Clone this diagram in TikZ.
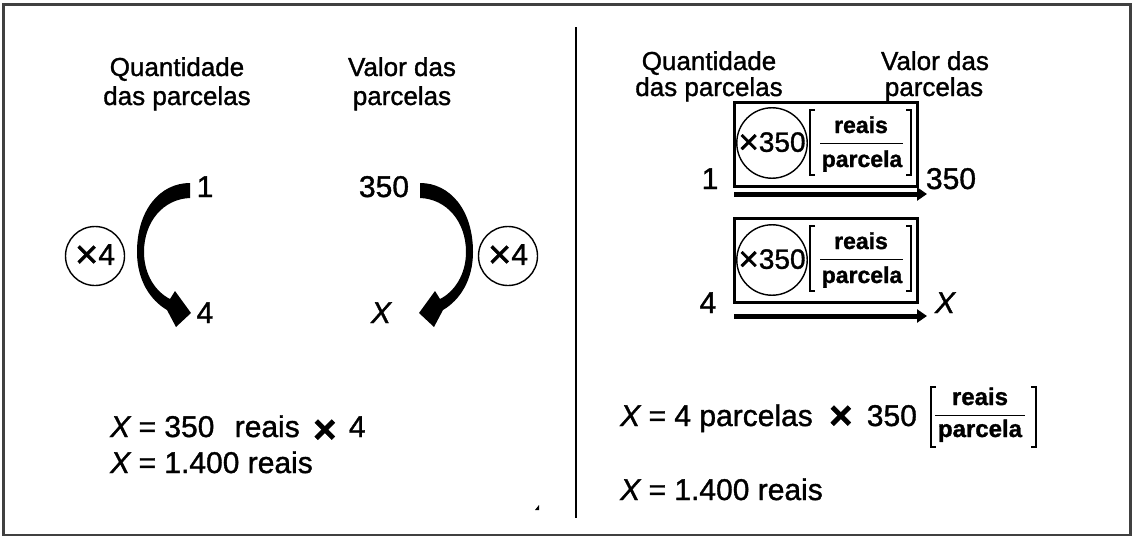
\documentclass[tikz,border=0pt]{standalone}
\usepackage{fontspec}
\setmainfont{Liberation Sans}[RawFeature={embolden=1.2}]
\usetikzlibrary{arrows.meta}
\definecolor{framegray}{RGB}{64,64,64}
\newcommand{\mulsign}[2]{\raisebox{#2}{\fontsize{#1}{#1}\selectfont ×}}
\newcommand{\bmulsign}[2]{\raisebox{#2}{\fontsize{#1}{#1}\selectfont\bfseries ×}}
\begin{document}
\begin{tikzpicture}[x=1pt,y=-1pt,
  hdr/.style={font=\fontsize{26}{29}\selectfont, inner sep=0, anchor=base},
  num/.style={font=\fontsize{30}{30}\selectfont, inner sep=0, anchor=base},
  eqn/.style={font=\fontsize{30}{30}\selectfont, inner sep=0, anchor=base west},
  fracbox/.style={font=\fontsize{23}{23}\selectfont\bfseries, inner sep=0, anchor=base},
  fraceq/.style={font=\fontsize{24}{24}\selectfont\bfseries, inner sep=0, anchor=base},
  ring/.style={circle, draw, line width=1.4pt, inner sep=0},
  ringbig/.style={ring, minimum size=59pt, font=\fontsize{30}{30}\selectfont},
  ringbox/.style={ring, minimum size=66pt, font=\fontsize{28}{28}\selectfont},
  factorbox/.style={draw, line width=3pt, inner sep=0, minimum width=183pt, minimum height=84pt},
  brk/.style={line width=1.3pt},
  fracline/.style={line width=1pt},
  flow/.style={line width=5pt, -{Triangle[length=10pt,width=13pt]}},
  swoosh/.style={fill=black, draw=none}
]
\useasboundingbox (0,0) rectangle (1134,538);
\fill[white] (0,0) rectangle (1134,538);
% frame and divider
\draw[line width=2.5pt, draw=framegray] (3.5,4.5) rectangle (1130.5,535);
\draw[line width=2pt] (576,27) -- (576,518);

% ---------- left panel ----------
\node[hdr] (lq1) at (177,76) {Quantidade};
\node[hdr] (lq2) at (177,105) {das parcelas};
\node[hdr] (lv1) at (402,76) {Valor das};
\node[hdr] (lv2) at (402,105) {parcelas};

\node[num] (n1) at (205,197) {1};
\node[num] (n350) at (384,197) {350};
\node[num] (n4) at (205,323) {4};
\node[num] (nX) at (381,323) {\itshape X};

\node[ringbig] (m1) at (95,256) {\mulsign{40}{-3pt}4};
\node[ringbig] (m2) at (508,256) {\mulsign{40}{-3pt}4};

% curved tapered arrows
\path[swoosh] (190,183) -- (190,198)
  .. controls (163,199) and (144,222) .. (144,252)
  .. controls (144,275) and (156,292) .. (170,299)
  -- (175,291) -- (191,313) -- (176,327) -- (167,310)
  .. controls (150,300) and (137,280) .. (137,252)
  .. controls (137,210) and (160,183) .. (190,183) -- cycle;
\path[swoosh] (420,183) -- (420,198)
  .. controls (447,199) and (466,222) .. (466,252)
  .. controls (466,275) and (454,292) .. (440,299)
  -- (435,291) -- (419,313) -- (434,327) -- (443,310)
  .. controls (460,300) and (473,280) .. (473,252)
  .. controls (473,210) and (450,183) .. (420,183) -- cycle;

\node[eqn] (le1) at (110,437) {{\itshape X} = 350\hspace{12pt} reais\hspace{5pt} \bmulsign{40}{-6pt}\hspace{4pt} 4};
\node[eqn] (le2) at (110,473) {{\itshape X} = 1.400 reais};
\fill (535,510) -- (539,505) -- (539,510) -- cycle;

% ---------- right panel ----------
\node[hdr] (rq1) at (709,70) {Quantidade};
\node[hdr] (rq2) at (709,96) {das parcelas};
\node[hdr] (rv1) at (935,70) {Valor das};
\node[hdr] (rv2) at (934,96) {parcelas};

% first row
\node[factorbox] (b1) at (825.5,144) {};
\node[ringbox] (c1) at (772,143) {\mulsign{35}{-2pt}350};
\node[fracbox] (fr1) at (861,133) {reais};
\node[fracbox] (fp1) at (862,167) {parcela};
\draw[fracline] (820,143) -- (903,143);
\draw[brk] (815,110) -- (810,110) -- (810,175) -- (815,175);
\draw[brk] (906,110) -- (911,110) -- (911,175) -- (906,175);
\coordinate (a1s) at (734,194);
\coordinate (a1e) at (927,194);
\draw[flow] (a1s) -- (a1e);
\node[num] (rn1) at (710,189) {1};
\node[num] (rn350) at (951,189) {350};

% second row
\node[factorbox] (b2) at (825.5,260) {};
\node[ringbox] (c2) at (772,260) {\mulsign{35}{-2pt}350};
\node[fracbox] (fr2) at (861,249) {reais};
\node[fracbox] (fp2) at (862,283) {parcela};
\draw[fracline] (820,259) -- (903,259);
\draw[brk] (815,226) -- (810,226) -- (810,291) -- (815,291);
\draw[brk] (906,226) -- (911,226) -- (911,291) -- (906,291);
\coordinate (a2s) at (734,316);
\coordinate (a2e) at (927,316);
\draw[flow] (a2s) -- (a2e);
\node[num] (rn4) at (708,313) {4};
\node[num] (rnX) at (945,313) {\itshape X};

% equations
\node[eqn] (re1) at (620,426) {{\itshape X} = 4 parcelas\hspace{8pt} \bmulsign{40}{-3pt}\hspace{6pt} 350};
\node[fraceq] (er) at (980,405) {reais};
\node[fraceq] (ep) at (980,437) {parcela};
\draw[fracline] (935,415) -- (1025,415);
\draw[brk] (936,387) -- (931,387) -- (931,447) -- (936,447);
\draw[brk] (1031,387) -- (1036,387) -- (1036,447) -- (1031,447);
\node[eqn] (re2) at (620,500) {{\itshape X} = 1.400 reais};
\end{tikzpicture}
\end{document}
